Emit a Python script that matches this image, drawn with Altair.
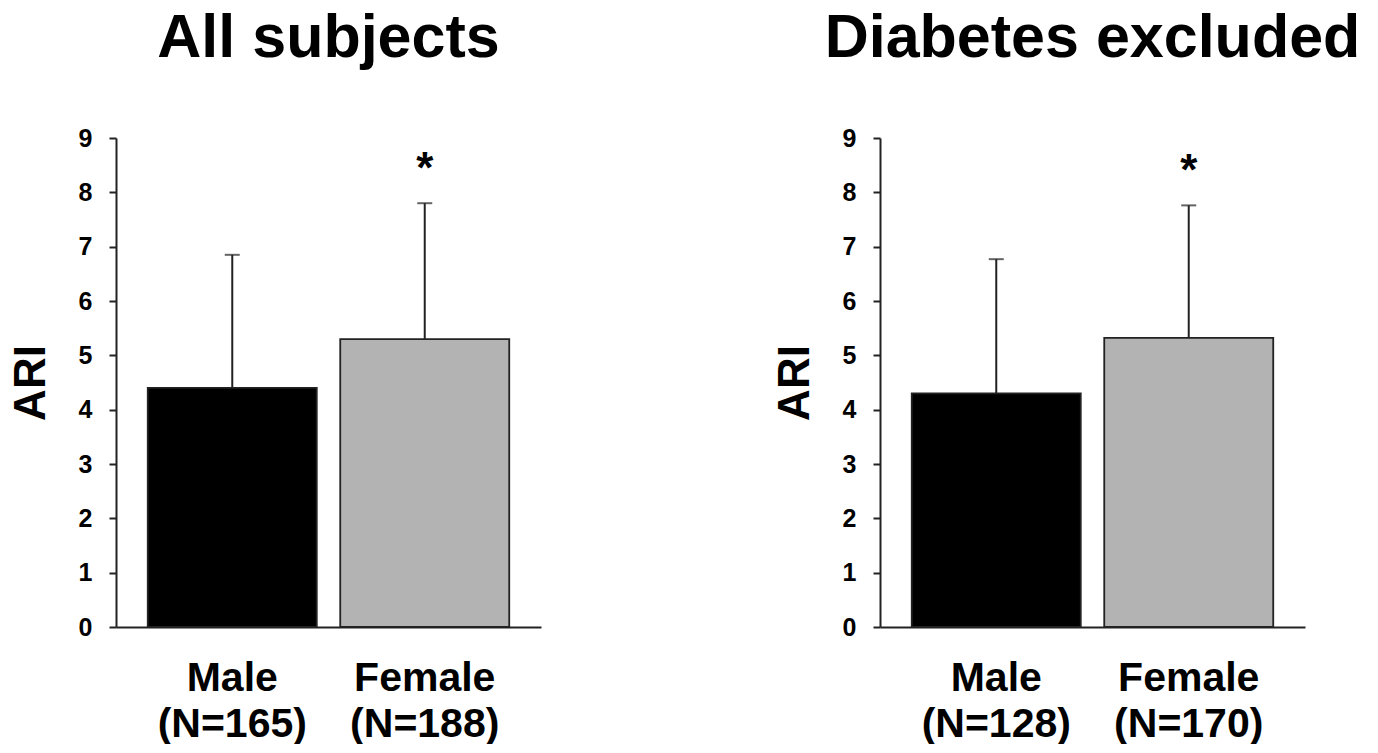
import altair as alt
import pandas as pd

# ---- data ----
sex = ["Male", "Female"]
panel_titles = ["All subjects", "Diabetes excluded"]
n_all = [165, 188]
mean_all = [4.40, 5.30]
sd_all = [2.45, 2.50]
n_nd = [128, 170]
mean_nd = [4.30, 5.32]
sd_nd = [2.47, 2.44]
sig = ["", "*"]
bar_colors = ["#000000", "#b3b3b3"]
y_ticks = [0, 1, 2, 3, 4, 5, 6, 7, 8, 9]

FONT = "Liberation Sans"
LINE = "#222222"


def make_df(n, mean, sd):
    return pd.DataFrame({
        "label": [f"{s}\n(N={k})" for s, k in zip(sex, n)],
        "sex": sex,
        "mean": mean,
        "upper": [m + s for m, s in zip(mean, sd)],
        "sig": sig,
    })


def panel(df, title):
    order = list(df["label"])
    base = alt.Chart(df).encode(
        x=alt.X(
            "label:N",
            sort=order,
            scale=alt.Scale(paddingInner=0.122, paddingOuter=0.165),
            axis=alt.Axis(
                title=None,
                labelAngle=0,
                labelExpr="split(datum.label, '\\n')",
                labelFont=FONT,
                labelFontSize=41,
                labelFontWeight="bold",
                labelColor="black",
                labelLineHeight=46,
                labelPadding=31,
                ticks=False,
                domainColor=LINE,
                domainWidth=2,
            ),
        )
    )
    yscale = alt.Scale(domain=[0, 9], nice=False)
    bars = base.mark_bar(stroke=LINE, strokeWidth=1.8).encode(
        y=alt.Y(
            "mean:Q",
            scale=yscale,
            axis=alt.Axis(
                title="ARI",
                values=y_ticks,
                format="d",
                grid=False,
                labelFont=FONT,
                labelFontSize=25,
                labelFontWeight="bold",
                labelColor="black",
                labelPadding=17,
                tickSize=7,
                tickWidth=2,
                tickColor=LINE,
                domainColor=LINE,
                domainWidth=2,
                titleFont=FONT,
                titleFontSize=44,
                titleFontWeight="bold",
                titleColor="black",
                titlePadding=25,
            ),
        ),
        color=alt.Color("sex:N", scale=alt.Scale(domain=sex, range=bar_colors), legend=None),
    )
    rule = base.mark_rule(color=LINE, strokeWidth=2).encode(
        y=alt.Y("mean:Q", scale=yscale), y2="upper:Q"
    )
    cap = base.mark_tick(color=LINE, size=15, thickness=2).encode(
        y=alt.Y("upper:Q", scale=yscale)
    )
    star = base.mark_text(
        font=FONT, fontSize=44, fontWeight="bold", color="black", dy=-33, baseline="middle"
    ).encode(y=alt.Y("upper:Q", scale=yscale), text="sig:N")
    return alt.layer(bars, rule, cap, star).properties(
        width=425,
        height=489,
        title=alt.TitleParams(
            title, font=FONT, fontSize=61, fontWeight="bold", color="black",
            anchor="middle", offset=8, baseline="alphabetic",
        ),
    )


left = panel(make_df(n_all, mean_all, sd_all), panel_titles[0])
right = panel(make_df(n_nd, mean_nd, sd_nd), panel_titles[1])

chart = alt.hconcat(left, right, spacing=232).properties(
    padding={"left": 1, "top": 0, "right": 5, "bottom": 0},
    background="white",
).configure_view(strokeWidth=0)

chart.save("out.html", embed_options={"renderer": "svg", "actions": False})
